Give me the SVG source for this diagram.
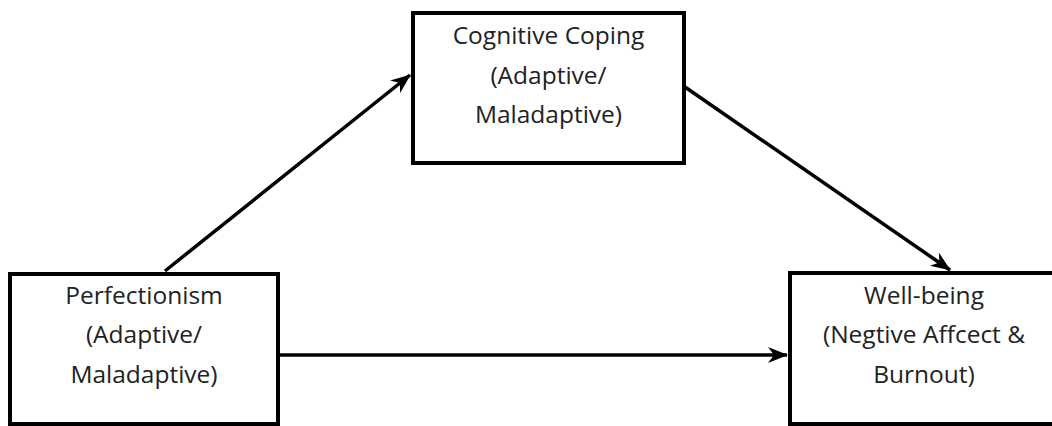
<svg xmlns="http://www.w3.org/2000/svg" width="1052" height="426" viewBox="0 0 1052 426">
<style>
.box{fill:#fff;stroke:#000;stroke-width:4}
.lbl{font-family:"Open Sans","Liberation Sans",sans-serif;font-size:24.5px;fill:#222;text-anchor:middle}
.edge{stroke:#000;stroke-width:3.5;fill:none}
</style>
<defs>
<marker id="ah" viewBox="0 0 20 16" refX="19" refY="8" markerWidth="20" markerHeight="16" markerUnits="userSpaceOnUse" orient="auto">
<path d="M0,0 L20,8 L0,16 L6,8 Z" fill="#000"/>
</marker>
</defs>
<rect width="1052" height="426" fill="#fff"/>
<g id="connectors">
<line class="edge" x1="165" y1="271" x2="410" y2="75" marker-end="url(#ah)"/>
<line class="edge" x1="685" y1="87" x2="950" y2="270" marker-end="url(#ah)"/>
<line class="edge" x1="278" y1="355" x2="787" y2="355" marker-end="url(#ah)"/>
</g>
<g id="coping">
<rect class="box" x="413" y="13" width="271" height="150"/>
<text class="lbl" x="548.5" y="44">Cognitive Coping</text>
<text class="lbl" x="548.5" y="84">(Adaptive/</text>
<text class="lbl" x="548.5" y="123">Maladaptive)</text>
</g>
<g id="perfectionism">
<rect class="box" x="10" y="274" width="268" height="150"/>
<text class="lbl" x="144" y="304">Perfectionism</text>
<text class="lbl" x="144" y="343">(Adaptive/</text>
<text class="lbl" x="144" y="383">Maladaptive)</text>
</g>
<g id="wellbeing">
<rect class="box" x="790" y="273" width="275" height="151"/>
<text class="lbl" x="924" y="304">Well-being</text>
<text class="lbl" x="924" y="343">(Negtive Affcect &amp;</text>
<text class="lbl" x="924" y="383">Burnout)</text>
</g>
</svg>
